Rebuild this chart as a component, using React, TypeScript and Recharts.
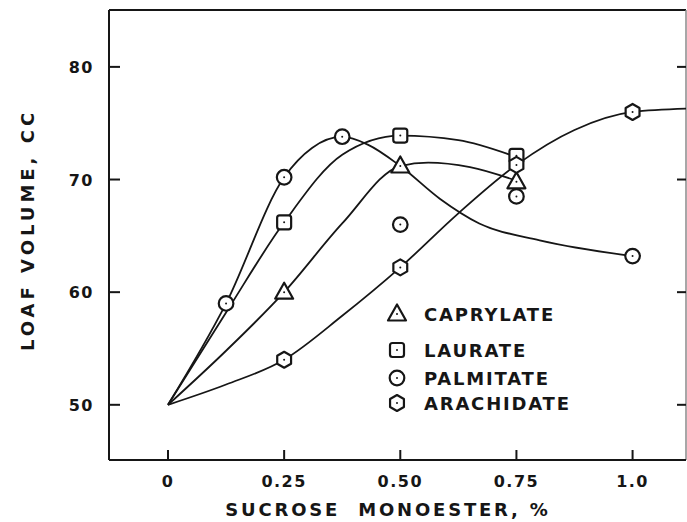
import { ComposedChart, Line, Scatter, XAxis, YAxis } from 'recharts';

// axis ticks
const xTicks = [0, 0.25, 0.5, 0.75, 1.0];
const xTickLabels = ['0', '0.25', '0.50', '0.75', '1.0'];
const yTicks = [50, 60, 70, 80];

// measured points [sucrose monoester %, loaf volume cc]
const caprylatePoints = [[0.25, 60], [0.5, 71.2], [0.75, 69.8]];
const lauratePoints = [[0.25, 66.2], [0.5, 73.9], [0.75, 72.1]];
const palmitatePoints = [[0.125, 59], [0.25, 70.2], [0.375, 73.8], [0.5, 66], [0.75, 68.5], [1.0, 63.2]];
const arachidatePoints = [[0.25, 54], [0.5, 62.2], [0.75, 71.3], [1.0, 76]];

// hand-drawn curves
const caprylateCurve = [[0, 50], [0.125, 54.8], [0.25, 60], [0.375, 66.1], [0.5, 71.2], [0.56, 71.5], [0.65, 71.1], [0.75, 69.9]];
const laurateCurve = [[0, 50], [0.125, 58.2], [0.25, 66.2], [0.375, 72.2], [0.5, 73.9], [0.625, 73.5], [0.75, 72.0]];
const palmitateCurve = [[0, 50], [0.125, 59], [0.25, 70.2], [0.31, 72.8], [0.375, 73.8], [0.43, 73.1], [0.5, 71.2], [0.585, 68.3], [0.67, 66.1], [0.8, 64.6], [1.0, 63.2]];
const arachidateCurve = [[0, 50], [0.125, 51.8], [0.25, 54], [0.375, 57.9], [0.5, 62.2], [0.625, 67], [0.75, 71.3], [0.875, 74.4], [1.0, 76], [1.115, 76.3]];

const seriesNames = ['CAPRYLATE', 'LAURATE', 'PALMITATE', 'ARACHIDATE'];
const seriesMarkers = ['triangle', 'square', 'circle', 'hexagon'];

const toRows = (pts: number[][]) => pts.map(([x, y]) => ({ x, y }));

const INK = '#161616';
const FONT = '"DejaVu Sans", sans-serif';
const X_DOMAIN = [-0.127, 1.115];
const Y_DOMAIN = [45.1, 85.05];

// plot box (chart 687x522)
const PLOT_LEFT = 109;
const PLOT_TOP = 10;
const PLOT_RIGHT = 686;
const PLOT_BOTTOM = 460;

const Marker = ({ kind, cx, cy }: { kind: string; cx: number; cy: number }) => {
  const s = { fill: '#fff', stroke: INK, strokeWidth: 2.2 };
  let body;
  if (kind === 'triangle') {
    body = <polygon points={`${cx},${cy - 9.5} ${cx - 9},${cy + 6.5} ${cx + 9},${cy + 6.5}`} strokeLinejoin="round" {...s} />;
  } else if (kind === 'square') {
    body = <rect x={cx - 7} y={cy - 7} width={14} height={14} rx={2.5} {...s} />;
  } else if (kind === 'circle') {
    body = <circle cx={cx} cy={cy} r={7.3} {...s} />;
  } else {
    const pts = [-90, -30, 30, 90, 150, 210]
      .map((a) => `${cx + 8 * Math.cos((a * Math.PI) / 180)},${cy + 8 * Math.sin((a * Math.PI) / 180)}`)
      .join(' ');
    body = <polygon points={pts} strokeLinejoin="round" {...s} />;
  }
  return (
    <g>
      {body}
      <circle cx={cx} cy={cy} r={1} fill={INK} />
    </g>
  );
};

const shapeFor = (kind: string) => (props: any) => <Marker kind={kind} cx={props.cx} cy={props.cy} />;

const BottomTick = ({ x, y, index }: any) => (
  <g>
    <line x1={x} x2={x} y1={y} y2={y - 10} stroke={INK} strokeWidth={2} />
    <text x={x} y={y + 27} textAnchor="middle" fontFamily={FONT} fontWeight="bold" fontSize={16} letterSpacing={1.5} fill={INK}>
      {xTickLabels[index]}
    </text>
  </g>
);

// left tick + label, and the matching inward tick on the right edge of the frame
const LeftTick = ({ x, y, payload }: any) => (
  <g>
    <line x1={x} x2={x + 11} y1={y} y2={y} stroke={INK} strokeWidth={2} />
    <line x1={PLOT_RIGHT - 9} x2={PLOT_RIGHT} y1={y} y2={y} stroke={INK} strokeWidth={2} />
    <text x={x - 15} y={y + 6} textAnchor="end" fontFamily={FONT} fontWeight="bold" fontSize={16} letterSpacing={1.5} fill={INK}>
      {payload.value}
    </text>
  </g>
);

export default function App() {
  const legendRowY = [314, 350, 378, 403];
  return (
    <div style={{ position: 'absolute', left: 0, top: 0, width: 687, height: 522, background: '#fff' }}>
      <ComposedChart width={687} height={522} margin={{ top: PLOT_TOP, right: 687 - PLOT_RIGHT, bottom: 0, left: 0 }}>
        <XAxis
          dataKey="x"
          type="number"
          domain={X_DOMAIN}
          allowDataOverflow
          ticks={xTicks}
          height={522 - PLOT_BOTTOM}
          tickSize={0}
          tickMargin={0}
          tick={<BottomTick />}
          axisLine={{ stroke: INK, strokeWidth: 2 }}
        />
        <YAxis
          type="number"
          domain={Y_DOMAIN}
          allowDataOverflow
          ticks={yTicks}
          width={PLOT_LEFT}
          tickSize={0}
          tickMargin={0}
          tick={<LeftTick />}
          axisLine={{ stroke: INK, strokeWidth: 2 }}
        />
        <Line data={toRows(caprylateCurve)} dataKey="y" type="monotone" stroke={INK} strokeWidth={1.8} dot={false} isAnimationActive={false} />
        <Line data={toRows(laurateCurve)} dataKey="y" type="monotone" stroke={INK} strokeWidth={1.8} dot={false} isAnimationActive={false} />
        <Line data={toRows(palmitateCurve)} dataKey="y" type="monotone" stroke={INK} strokeWidth={1.8} dot={false} isAnimationActive={false} />
        <Line data={toRows(arachidateCurve)} dataKey="y" type="monotone" stroke={INK} strokeWidth={1.8} dot={false} isAnimationActive={false} />
        <Scatter data={toRows(caprylatePoints)} dataKey="y" shape={shapeFor('triangle')} isAnimationActive={false} />
        <Scatter data={toRows(lauratePoints)} dataKey="y" shape={shapeFor('square')} isAnimationActive={false} />
        <Scatter data={toRows(palmitatePoints)} dataKey="y" shape={shapeFor('circle')} isAnimationActive={false} />
        <Scatter data={toRows(arachidatePoints)} dataKey="y" shape={shapeFor('hexagon')} isAnimationActive={false} />
        {/* top and right edges of the frame */}
        <line x1={PLOT_LEFT} x2={PLOT_RIGHT} y1={PLOT_TOP} y2={PLOT_TOP} stroke={INK} strokeWidth={2} />
        <line x1={PLOT_RIGHT} x2={PLOT_RIGHT} y1={PLOT_TOP} y2={PLOT_BOTTOM} stroke="#8a8a8a" strokeWidth={1.5} />
        {/* legend */}
        {seriesNames.map((name, i) => (
          <g key={name}>
            <Marker kind={seriesMarkers[i]} cx={397} cy={legendRowY[i]} />
            <text x={424} y={legendRowY[i] + 7} fontFamily={FONT} fontWeight="bold" fontSize={18} letterSpacing={1.8} fill={INK}>
              {name}
            </text>
          </g>
        ))}
        <text x={27} y={230} transform="rotate(-90 27 230)" textAnchor="middle" dominantBaseline="central" fontFamily={FONT} fontWeight="bold" fontSize={18} letterSpacing={4} fill={INK}>
          LOAF VOLUME, CC
        </text>
        <text x={388} y={516} textAnchor="middle" fontFamily={FONT} fontWeight="bold" fontSize={18} letterSpacing={2.8} fill={INK} style={{ whiteSpace: 'pre' }}>
          {'SUCROSE  MONOESTER, %'}
        </text>
      </ComposedChart>
    </div>
  );
}
